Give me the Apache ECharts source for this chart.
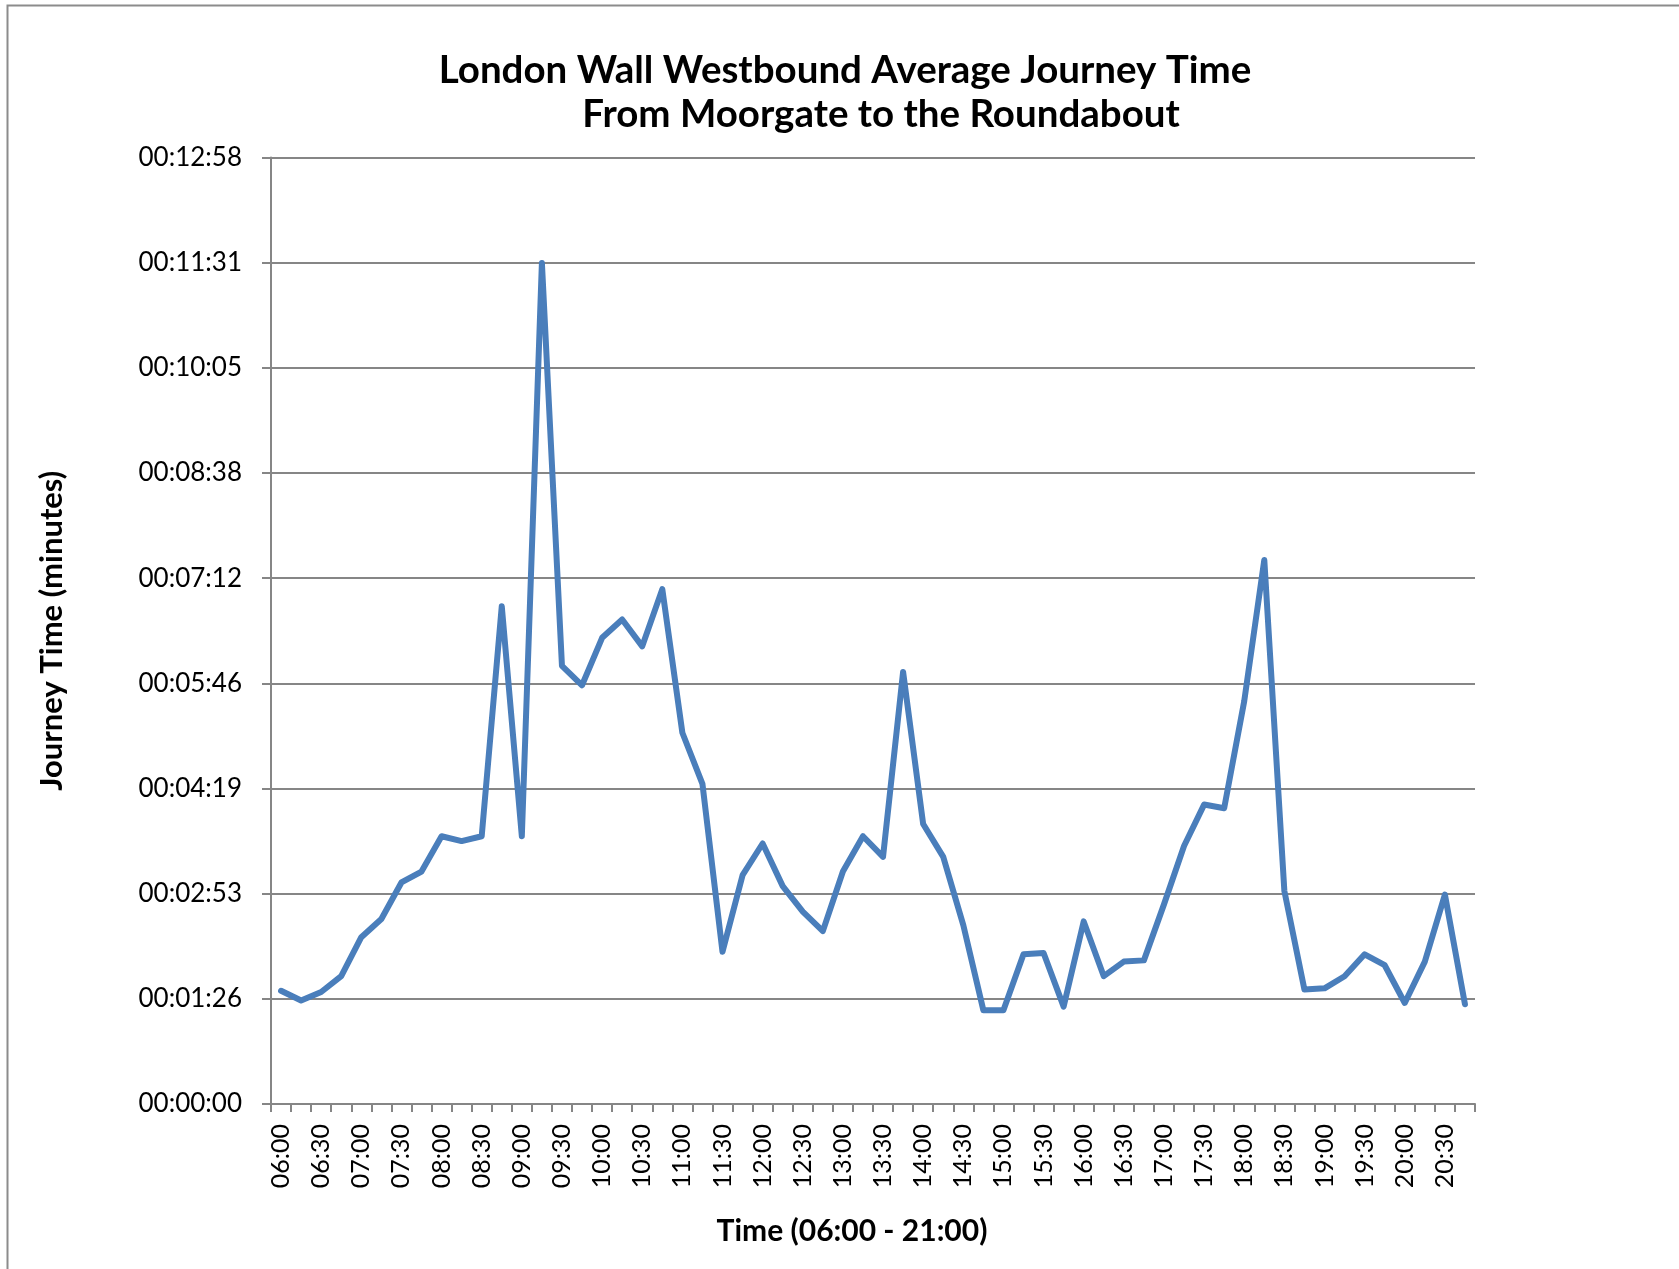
<!DOCTYPE html>
<html>
<head>
<meta charset="utf-8">
<script src="https://cdn.jsdelivr.net/npm/echarts@6/dist/echarts.min.js"></script>
<style>
html,body{margin:0;padding:0;background:#fff;}
#chart{width:1679px;height:1269px;}
</style>
</head>
<body>
<div id="chart"></div>
<script>
const titleLines = ['London Wall Westbound Average Journey Time', 'From Moorgate to the Roundabout'];
const xAxisName = 'Time (06:00 - 21:00)';
const yAxisName = 'Journey Time (minutes)';

const categories = ['06:00','06:15','06:30','06:45','07:00','07:15','07:30','07:45','08:00','08:15',
  '08:30','08:45','09:00','09:15','09:30','09:45','10:00','10:15','10:30','10:45',
  '11:00','11:15','11:30','11:45','12:00','12:15','12:30','12:45','13:00','13:15',
  '13:30','13:45','14:00','14:15','14:30','14:45','15:00','15:15','15:30','15:45',
  '16:00','16:15','16:30','16:45','17:00','17:15','17:30','17:45','18:00','18:15',
  '18:30','18:45','19:00','19:15','19:30','19:45','20:00','20:15','20:30','20:45'];

// journey time in seconds
const journeySeconds = [93, 85, 92, 105, 137, 152, 182, 191, 220, 216,
  220, 409, 220, 691, 360, 344, 383, 398, 376, 423,
  305, 263, 125, 188, 214, 179, 158, 142, 191, 220,
  203, 355, 230, 203, 147, 77, 77, 123, 124, 80,
  150, 105, 117, 118, 164, 212, 246, 243, 331, 447,
  175, 94, 95, 105, 123, 114, 83, 117, 172, 82];

const yTickLabels = ['00:00:00','00:01:26','00:02:53','00:04:19','00:05:46','00:07:12','00:08:38','00:10:05','00:11:31','00:12:58'];
const yInterval = 86.4;
const yMax = 777.6;

const chart = echarts.init(document.getElementById('chart'));
const font = 'Lato, "Open Sans", sans-serif';
const gray = '#868686';

chart.setOption({
  animation: false,
  backgroundColor: '#ffffff',
  graphic: [
    { type: 'rect', left: 5, top: 3, silent: true,
      shape: { x: 0, y: 0, width: 1720, height: 1320 },
      style: { fill: 'none', stroke: '#8c8c8c', lineWidth: 2 } },
    { type: 'text', x: 845, y: 71,
      style: { text: titleLines[0], font: 'bold 38.5px ' + font, fill: '#000', align: 'center', verticalAlign: 'middle' } },
    { type: 'text', x: 881, y: 115,
      style: { text: titleLines[1], font: 'bold 38.5px ' + font, fill: '#000', align: 'center', verticalAlign: 'middle' } }
  ],
  grid: { left: 271, top: 157.5, width: 1204, height: 946.5, containLabel: false },
  xAxis: {
    type: 'category',
    data: categories,
    boundaryGap: true,
    name: xAxisName,
    nameLocation: 'middle',
    nameGap: 112,
    nameTextStyle: { fontFamily: font, fontSize: 30, fontWeight: 'bold', color: '#000', padding: [0, 42, 0, 0] },
    axisLine: { lineStyle: { color: gray, width: 2 } },
    axisTick: { show: true, interval: 0, length: 8, lineStyle: { color: gray, width: 2 } },
    axisLabel: { interval: 1, rotate: 90, margin: 20, fontFamily: font, fontSize: 25, color: '#000' },
    splitLine: { show: false }
  },
  yAxis: {
    type: 'value',
    min: 0,
    max: yMax,
    interval: yInterval,
    name: yAxisName,
    nameLocation: 'middle',
    nameGap: 204,
    nameTextStyle: { fontFamily: font, fontSize: 31, fontWeight: 'bold', color: '#000' },
    axisLine: { show: true, lineStyle: { color: gray, width: 2 } },
    axisTick: { show: true, length: 9, lineStyle: { color: gray, width: 2 } },
    axisLabel: {
      margin: 29, fontFamily: font, fontSize: 26, color: '#000',
      formatter: function (v, i) { return yTickLabels[Math.round(v / yInterval)]; }
    },
    splitLine: { show: true, lineStyle: { color: gray, width: 2 } }
  },
  series: [{
    type: 'line',
    data: journeySeconds,
    showSymbol: false,
    symbol: 'none',
    lineStyle: { color: '#4a7ebb', width: 6, join: 'round', cap: 'round' },
    itemStyle: { color: '#4a7ebb' }
  }]
});
</script>
</body>
</html>
